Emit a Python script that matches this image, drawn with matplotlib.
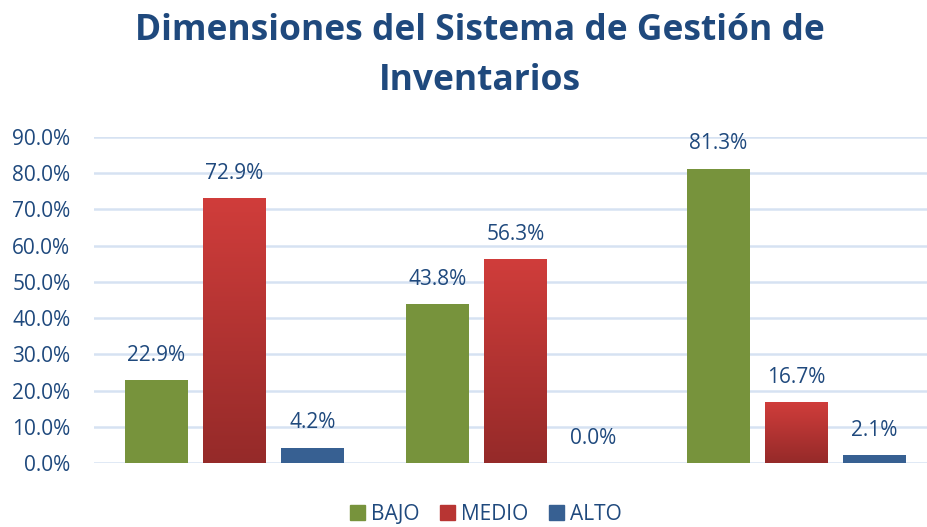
import numpy as np
import matplotlib.pyplot as plt
from matplotlib.colors import LinearSegmentedColormap
from matplotlib.patches import Patch

series = ["BAJO", "MEDIO", "ALTO"]
bajo = [0.229, 0.438, 0.813]
medio = [0.729, 0.563, 0.167]
alto = [0.042, 0.0, 0.021]
yticks = [0.0, 0.1, 0.2, 0.3, 0.4, 0.5, 0.6, 0.7, 0.8, 0.9]

W, H = 928, 527
text_blue = "#1f497d"
green = "#77933c"
blue = "#376092"
red_top, red_bottom = "#d03d3b", "#952a29"

fig = plt.figure(figsize=(W / 100, H / 100), dpi=100)
ax = fig.add_axes([94 / W, 64 / H, (W - 94) / W, 326 / H])

x = np.arange(len(bajo))
bw = 0.224
off = 0.278
red_cmap = LinearSegmentedColormap.from_list("red", [red_bottom, red_top])

ax.bar(x - off, bajo, bw, color=green, zorder=3)
red_bars = ax.bar(x, medio, bw, color=red_top, zorder=3)
ax.bar(x + off, alto, bw, color=blue, zorder=3)

# gradient fill for the red bars
grad = np.linspace(0, 1, 256).reshape(-1, 1)
for b in red_bars:
    x0, w, h = b.get_x(), b.get_width(), b.get_height()
    if h <= 0:
        continue
    ax.imshow(grad, cmap=red_cmap, origin="lower", aspect="auto",
              extent=[x0, x0 + w, 0, h], zorder=3.5, vmin=0, vmax=1)

for vals, dx in ((bajo, -off), (medio, 0), (alto, off)):
    for xi, v in zip(x, vals):
        ax.annotate(f"{v * 100:.1f}%", (xi + dx, v), xytext=(0, 18),
                    textcoords="offset points", ha="center", va="center",
                    fontsize=15, color=text_blue, family="Open Sans")

ax.set_xlim(-0.5, (W - 234.5) / 281)
ax.set_ylim(0, 0.9)
ax.set_yticks(yticks)
ax.set_yticklabels([f"{t * 100:.1f}%" for t in yticks], fontsize=15,
                   color=text_blue, family="Open Sans")
ax.tick_params(axis="y", length=0, pad=17)
ax.set_xticks([])
ax.grid(axis="y", color="#d6e2f2", linewidth=1.8, zorder=0)
for s in ax.spines.values():
    s.set_visible(False)

fig.text(480 / W, 1 - 31 / H, "Dimensiones del Sistema de Gestión de",
         ha="center", va="center", fontsize=25.5, fontweight="bold",
         color=text_blue, family="Open Sans")
fig.text(480 / W, 1 - 81 / H, "Inventarios",
         ha="center", va="center", fontsize=25.5, fontweight="bold",
         color=text_blue, family="Open Sans")

handles = [Patch(color=green), Patch(color="#b83533"), Patch(color=blue)]
leg = fig.legend(handles, series, loc="center", bbox_to_anchor=(486 / W, 1 - 514 / H),
                 ncol=3, frameon=False, handlelength=0.7, handleheight=0.7,
                 handletextpad=0.3, columnspacing=1.0,
                 prop={"family": "Open Sans", "size": 15})
for t in leg.get_texts():
    t.set_color(text_blue)

fig.savefig("out.png", dpi=100)
